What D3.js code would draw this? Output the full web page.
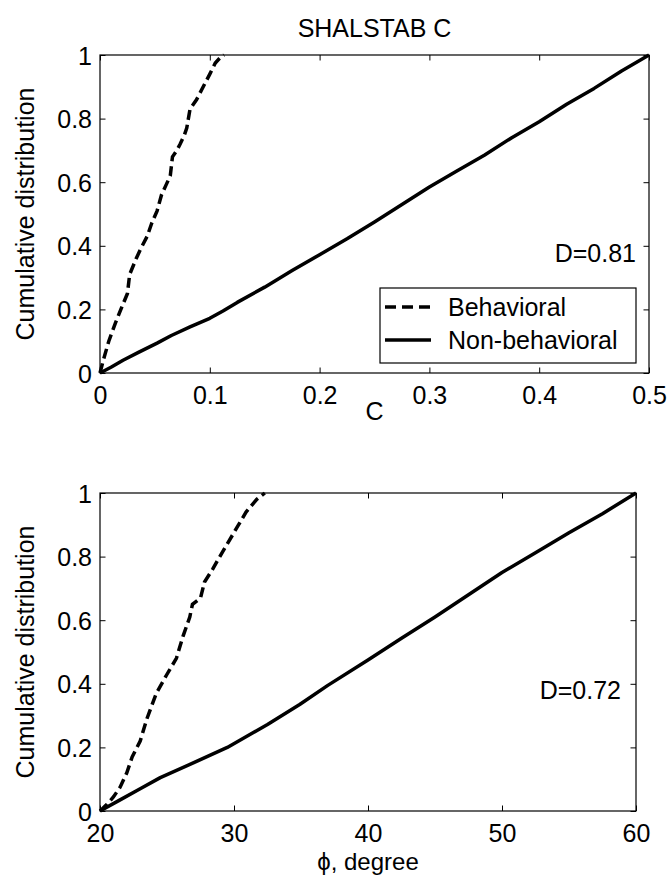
<!DOCTYPE html>
<html>
<head>
<meta charset="utf-8">
<script src="https://cdn.jsdelivr.net/npm/d3@7"></script>
<style>
  body { margin: 0; background: #fff; }
  text { font-family: "Liberation Sans", Arial, sans-serif; fill: #000; }
</style>
</head>
<body>
<div id="draw-area"></div>
<script>
// ---- data ----
// top panel: cumulative distribution vs C
var topBehavioral = [[0,0],[0.003,0.04],[0.008,0.10],[0.014,0.157],[0.019,0.20],[0.025,0.25],[0.027,0.31],
  [0.033,0.36],[0.037,0.39],[0.043,0.43],[0.047,0.47],[0.052,0.51],[0.056,0.56],[0.060,0.59],[0.064,0.62],
  [0.066,0.68],[0.070,0.70],[0.073,0.72],[0.077,0.75],[0.079,0.77],[0.082,0.83],[0.088,0.86],[0.094,0.90],
  [0.100,0.94],[0.105,0.975],[0.109,0.99],[0.113,1.0]];
var topNonBehavioral = [[0,0],[0.01,0.018],[0.021,0.04],[0.035,0.065],[0.052,0.094],[0.065,0.118],[0.082,0.145],
  [0.1,0.172],[0.112,0.195],[0.125,0.222],[0.15,0.27],[0.175,0.322],[0.2,0.372],[0.225,0.422],
  [0.25,0.475],[0.275,0.53],[0.3,0.585],[0.325,0.635],[0.35,0.685],[0.375,0.74],[0.4,0.79],[0.425,0.845],
  [0.45,0.895],[0.475,0.95],[0.5,1.0]];
// bottom panel: cumulative distribution vs phi
var botBehavioral = [[20,0],[20.5,0.02],[21,0.044],[21.5,0.075],[22,0.12],[22.4,0.17],[23,0.22],[23.5,0.29],
  [24.2,0.37],[25,0.43],[25.7,0.48],[26.2,0.55],[26.7,0.61],[26.9,0.65],[27.5,0.67],[27.8,0.72],[28.4,0.76],
  [28.8,0.79],[29.5,0.84],[30.2,0.89],[30.9,0.94],[31.7,0.98],[32.3,1.0]];
var botNonBehavioral = [[20,0],[21.5,0.035],[23,0.07],[24.5,0.105],[27,0.152],[29.5,0.2],[32.5,0.272],[34.9,0.335],
  [37,0.395],[40,0.475],[42.5,0.543],[45,0.61],[47.5,0.68],[50,0.75],[52.5,0.812],[55,0.875],[57.5,0.935],[60,1]];

var yTicks = [0, 0.2, 0.4, 0.6, 0.8, 1];
var topXTicks = [0, 0.1, 0.2, 0.3, 0.4, 0.5];
var botXTicks = [20, 30, 40, 50, 60];
var legendLabels = ["Behavioral", "Non-behavioral"];

var W = 670, H = 884;
var svg = d3.select("#draw-area").append("svg")
    .attr("width", W).attr("height", H);

var fs = 25;

function panel(opts){
  var x = d3.scaleLinear().domain(opts.xDomain).range([opts.left, opts.right]);
  var y = d3.scaleLinear().domain([0, 1]).range([opts.bottom, opts.top]);
  var g = svg.append("g");
  var tk = 5.5;

  // ticks inside on all four sides (box on)
  g.append("g").attr("transform", "translate(0," + opts.bottom + ")")
    .call(d3.axisBottom(x).tickValues(opts.xTicks).tickSizeInner(-tk).tickSizeOuter(0).tickFormat(d3.format("~g")))
    .call(function(a){
      a.select(".domain").remove();
      a.selectAll("line").attr("stroke", "#000");
      a.selectAll("text").attr("y", 0).attr("dy", null).attr("transform", "translate(0," + opts.xLabelBase + ")")
        .style("font-size", fs + "px").style("font-family", "Liberation Sans, Arial, sans-serif");
    });
  g.append("g").attr("transform", "translate(0," + opts.top + ")")
    .call(d3.axisTop(x).tickValues(opts.xTicks).tickSizeInner(-tk).tickSizeOuter(0).tickFormat(""))
    .call(function(a){ a.select(".domain").remove(); a.selectAll("line").attr("stroke", "#000"); });
  g.append("g").attr("transform", "translate(" + opts.left + ",0)")
    .call(d3.axisLeft(y).tickValues(yTicks).tickSizeInner(-tk).tickSizeOuter(0).tickFormat(d3.format("~g")))
    .call(function(a){
      a.select(".domain").remove();
      a.selectAll("line").attr("stroke", "#000");
      a.selectAll("text").attr("x", -8).attr("dy", "0.36em")
        .style("font-size", fs + "px").style("font-family", "Liberation Sans, Arial, sans-serif");
    });
  g.append("g").attr("transform", "translate(" + opts.right + ",0)")
    .call(d3.axisRight(y).tickValues(yTicks).tickSizeInner(-tk).tickSizeOuter(0).tickFormat(""))
    .call(function(a){ a.select(".domain").remove(); a.selectAll("line").attr("stroke", "#000"); });

  g.append("rect")
    .attr("x", opts.left).attr("y", opts.top)
    .attr("width", opts.right - opts.left).attr("height", opts.bottom - opts.top)
    .attr("fill", "none").attr("stroke", "#000").attr("stroke-width", 1.2);

  var line = d3.line().x(function(d){ return x(d[0]); }).y(function(d){ return y(d[1]); });

  g.append("path").datum(opts.solid).attr("d", line)
    .attr("fill", "none").attr("stroke", "#000").attr("stroke-width", 3.5).attr("stroke-linejoin", "round");
  g.append("path").datum(opts.dashed).attr("d", line)
    .attr("fill", "none").attr("stroke", "#000").attr("stroke-width", 3.5).attr("stroke-dasharray", "10,5");

  // y label
  g.append("text")
    .attr("transform", "translate(25," + ((opts.top + opts.bottom) / 2) + ") rotate(-90)")
    .attr("text-anchor", "middle").attr("dy", "0.36em")
    .style("font-size", fs + "px")
    .text("Cumulative distribution");

  // x label
  g.append("text")
    .attr("x", (opts.left + opts.right) / 2).attr("y", opts.xTitleBase)
    .attr("text-anchor", "middle").style("font-size", opts.xTitleSize + "px")
    .text(opts.xTitle);

  // D statistic
  g.append("text")
    .attr("x", opts.dX).attr("y", opts.dY).attr("dy", "0.36em")
    .attr("text-anchor", "end").style("font-size", fs + "px")
    .text(opts.dText);

  return {g: g, x: x, y: y};
}

var p1 = panel({
  left: 100, right: 649, top: 55, bottom: 373,
  xDomain: [0, 0.5], xTicks: topXTicks,
  xLabelBase: 31, xTitleBase: 420, xTitle: "C", xTitleSize: fs,
  solid: topNonBehavioral, dashed: topBehavioral,
  dX: 636, dY: 253, dText: "D=0.81"
});

var p2 = panel({
  left: 100, right: 636, top: 493, bottom: 811,
  xDomain: [20, 60], xTicks: botXTicks,
  xLabelBase: 31, xTitleBase: 870, xTitle: "\u03d5, degree", xTitleSize: 24,
  solid: botNonBehavioral, dashed: botBehavioral,
  dX: 621, dY: 690, dText: "D=0.72"
});

// title
svg.append("text")
  .attr("x", 374.5).attr("y", 37)
  .attr("text-anchor", "middle").style("font-size", fs + "px")
  .text("SHALSTAB C");

// legend in top panel
var leg = p1.g.append("g");
leg.append("rect")
  .attr("x", 380).attr("y", 288).attr("width", 256).attr("height", 75)
  .attr("fill", "#fff").attr("stroke", "#000").attr("stroke-width", 1.2);
var legY = [307, 340];
legendLabels.forEach(function(lbl, i){
  leg.append("line")
    .attr("x1", 385).attr("x2", 431).attr("y1", legY[i]).attr("y2", legY[i])
    .attr("stroke", "#000").attr("stroke-width", 3.5)
    .attr("stroke-dasharray", i === 0 ? "11,6" : null);
  leg.append("text")
    .attr("x", 448).attr("y", legY[i]).attr("dy", "0.36em")
    .style("font-size", fs + "px")
    .text(lbl);
});
</script>
</body>
</html>
